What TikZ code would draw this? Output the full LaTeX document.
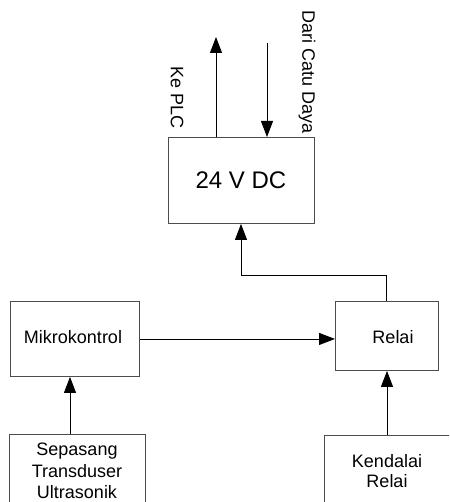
\documentclass[tikz,border=0pt]{standalone}
\usepackage{fontspec}
\setmainfont{Liberation Sans}
\usetikzlibrary{arrows.meta}
\begin{document}
\begin{tikzpicture}[x=1pt,y=-1pt,
  blk/.style={draw=black!70,line width=0.9pt,inner sep=0pt,anchor=north west},
  lbl/.style={font=\fontsize{18}{21.5}\selectfont,align=center,inner sep=0pt},
  conn/.style={draw=black,line width=0.9pt,-{Triangle[length=16pt,width=12pt]}}]
\useasboundingbox (0,0) rectangle (449,502);
\clip (0,0) rectangle (449,502);
% boxes
\node[blk,minimum width=146pt,minimum height=86pt] (dc) at (168,137) {};
\node[blk,minimum width=129pt,minimum height=75pt] (mk) at (10,301) {};
\node[blk,minimum width=103pt,minimum height=69pt] (rl) at (335,301) {};
\node[blk,minimum width=136pt,minimum height=80pt] (ts) at (9,434) {};
\node[blk,minimum width=140pt,minimum height=80pt] (kr) at (324,435) {};
% texts
\node[lbl,font=\fontsize{24}{28}\selectfont] (tdc) at (241,180) {24 V DC};
\node[lbl] (tmk) at (73,337) {Mikrokontrol};
\node[lbl] (trl) at (393,337) {Relai};
\node[lbl,anchor=north] (tts) at (77,443) {Sepasang\\Transduser\\Ultrasonik};
\node[lbl,anchor=north,font=\fontsize{18}{20.5}\selectfont] (tkr) at (387,454) {Kendalai\\Relai};
\node[lbl,rotate=-90] (plc) at (177,98) {Ke PLC};
\node[lbl,rotate=-90] (cd) at (307,72) {Dari Catu Daya};
% connector ends
\coordinate (plcend) at (216,37);
\coordinate (cdstart) at (267,43);
% connectors
\draw[conn] (dc.north west -| plcend) -- (plcend);
\draw[conn] (cdstart) -- (cdstart |- dc.north);
\draw[conn] (mk.east) -- (mk.east -| rl.west);
\draw[conn] (ts.north -| 70,0) -- (mk.south -| 70,0);
\draw[conn] (kr.north -| 387,0) -- (rl.south -| 387,0);
\draw[conn] (rl.north -| 386,0) -- (386,275) -- (241,275) -- (dc.south -| 241,0);
\end{tikzpicture}
\end{document}
